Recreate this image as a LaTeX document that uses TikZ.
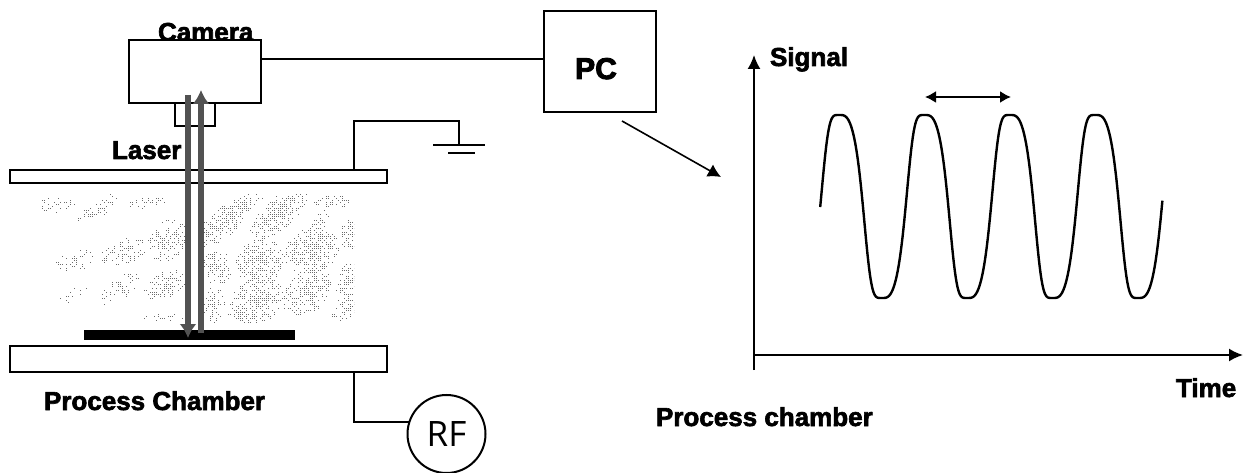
\documentclass[tikz,border=0pt]{standalone}
\usepackage{fontspec}
\usetikzlibrary{arrows.meta,calc}
\setmainfont{Liberation Sans}
\newfontfamily\hvy[FakeBold=2.4]{Liberation Sans Bold}
\newfontfamily\hvyb[FakeBold=3.2]{Liberation Sans Bold}
\newfontfamily\rffont{Open Sans}
\tikzset{
  lbl/.style={inner sep=0,outer sep=0,anchor=base west,font=\hvy\fontsize{26}{26}\selectfont},
  boxn/.style={draw=black,fill=white,line width=2pt,inner sep=0,outer sep=0,rectangle},
  wire/.style={draw=black,line width=2pt},
  beam/.style={draw=black!68,line width=5.4pt,-{Latex[length=14pt,width=17pt]}},
  axis/.style={draw=black,line width=1.8pt,-{Latex[length=14pt,width=13pt]}},
  pointer/.style={draw=black,line width=1.6pt,-{Latex[length=13pt,width=14pt]}},
  period/.style={draw=black,line width=1.8pt,{Latex[length=11pt,width=12pt]}-{Latex[length=11pt,width=12pt]}},
  wave/.style={draw=black,line width=2.4pt},
  speck/.style={fill=black!58},
}
\begin{document}
\begin{tikzpicture}[x=1pt,y=-1pt]
\useasboundingbox (0,0) rectangle (1243,473);
% stippled plasma
\pgfmathsetseed{4217}
\begin{scope}
\clip (38,194) rectangle (354,326);
\foreach \cx/\cy/\a/\b/\r/\d in {
 105/60/60/26/0/0.22, 235/70/72/26/35/0.30, 385/50/62/18/10/0.30,
 165/225/58/34/20/0.24, 310/200/68/38/15/0.36, 445/165/72/55/50/0.40,
 300/310/72/32/40/0.28, 150/330/50/20/20/0.16, 435/300/68/38/25/0.46,
 430/395/70/13/0/0.24, 610/110/105/42/40/0.52, 670/55/70/24/30/0.34,
 775/85/105/44/40/0.66, 935/50/62/20/0/0.46, 590/245/50/50/0/0.42,
 720/225/78/66/20/0.56, 875/195/86/68/20/0.60, 985/150/56/22/85/0.52,
 710/345/86/66/30/0.60, 860/320/84/58/40/0.54, 980/290/72/28/75/0.46,
 975/375/58/24/35/0.50, 575/360/58/38/80/0.36, 665/395/46/14/0/0.40,
 900/105/42/24/30/0.24}{
  \pgfmathtruncatemacro{\n}{\d*3.1416*\a*\b/36}
  \foreach \i in {1,...,\n}{
    \pgfmathsetmacro{\t}{rnd*360}
    \pgfmathsetmacro{\s}{pow(rnd,0.72)}
    \pgfmathsetmacro{\u}{\a*\s*cos(\t)}
    \pgfmathsetmacro{\v}{\b*\s*sin(\t)}
    \pgfmathsetmacro{\X}{2*round((20+(\cx+\u*cos(\r)+\v*sin(\r))/3)/2)}
    \pgfmathsetmacro{\Y}{2*round((185+(\cy-\u*sin(\r)+\v*cos(\r))/3)/2)}
    \fill[speck] (\X,\Y) rectangle ++(1.2,1.2);
  }
}
\end{scope}
% camera
\node[lbl] (camlabel) at (158,41) {Camera};
\node[boxn,minimum width=132pt,minimum height=63pt] (cam) at (195,71.5) {};
\node[boxn,minimum width=40pt,minimum height=23pt] (lens) at (195,115) {};
\node[boxn,minimum width=112pt,minimum height=101pt] (pc) at (600,61.5) {};
\node[inner sep=0,anchor=base,font=\hvyb\fontsize{30}{30}\selectfont] (pclabel) at (596,79) {PC};
\coordinate (camout) at (261,59);
\coordinate (pcin) at (544,59);
\draw[wire] (camout) -- (pcin);
% plates
\node[boxn,minimum width=377pt,minimum height=13pt] (top) at (198.5,177) {};
\node[boxn,minimum width=377pt,minimum height=26pt] (bottom) at (198.5,359) {};
\node[draw=none,fill=black,inner sep=0,minimum width=211pt,minimum height=10pt] (wafer) at (189.5,335) {};
\node[lbl] (laser) at (112,159) {Laser};
\node[lbl] (pchamber) at (44,410) {Process Chamber};
% beams
\coordinate (b1a) at (188,95);
\coordinate (b1b) at (188,338);
\coordinate (b2a) at (201,333);
\coordinate (b2b) at (201,90);
\draw[beam] (b1a) -- (b1b);
\draw[beam] (b2a) -- (b2b);
% ground
\coordinate (g0) at (354,170);
\coordinate (g1) at (354,121);
\coordinate (g2) at (459,121);
\coordinate (g3) at (459,145);
\draw[wire] (g0) -- (g1) -- (g2) -- (g3);
\coordinate (g4) at (433,145);
\coordinate (g5) at (485,145);
\coordinate (g6) at (448,153);
\coordinate (g7) at (475,153);
\draw[wire] (g4) -- (g5);
\draw[wire] (g6) -- (g7);
% RF
\node[draw=black,line width=2pt,circle,minimum size=78pt,inner sep=0,outer sep=0,font=\rffont\fontsize{35}{35}\selectfont] (rf) at (446.5,434) {RF};
\coordinate (r0) at (354,372);
\coordinate (r1) at (354,422);
\coordinate (r2) at (409,422);
\draw[wire] (r0) -- (r1) -- (r2);
% pointer
\coordinate (p0) at (622,121);
\coordinate (p1) at (721,177);
\draw[pointer] (p0) -- (p1);
% axes
\coordinate (o1) at (754,370);
\coordinate (o2) at (754,55);
\coordinate (o3) at (754,355);
\coordinate (o4) at (1243,355);
\draw[axis] (o1) -- (o2);
\draw[axis] (o3) -- (o4);
\node[lbl] (signal) at (770,66) {Signal};
\node[lbl] (time) at (1176,397) {Time};
\node[lbl] (pc2) at (656,426) {Process chamber};
\coordinate (d1) at (925,97);
\coordinate (d2) at (1011,97);
\draw[period] (d1) -- (d2);
\draw[wave] plot[domain=820.2:1162.4,samples=400,variable=\x] (\x,{206.5-91.5*sin(90*cos((\x-841.6)/85.4*360+6+6*cos(2*(\x-841.6)/85.4*360)))});
\end{tikzpicture}
\end{document}
